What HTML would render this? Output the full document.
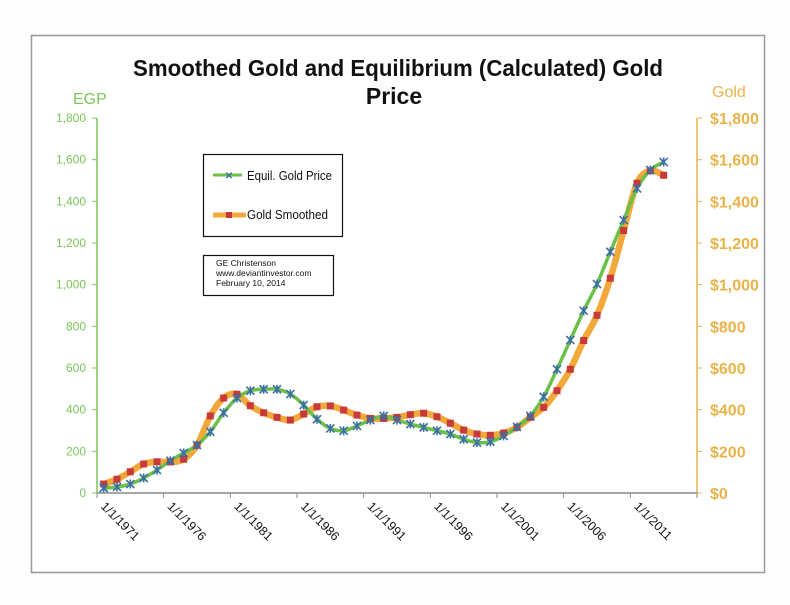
<!DOCTYPE html>
<html><head><meta charset="utf-8"><style>
html,body{margin:0;padding:0;background:#fff;}
svg{display:block;font-family:"Liberation Sans",sans-serif;}
</style></head><body>
<svg id="chart" width="790" height="605" viewBox="0 0 790 605">
<rect x="0" y="0" width="790" height="605" fill="#fdfdfd"/>
<rect x="31.5" y="35.5" width="733" height="537" fill="#fff" stroke="#999" stroke-width="1.5"/>
<text x="133" y="76" textLength="530" lengthAdjust="spacingAndGlyphs" font-size="23" font-weight="bold" fill="#111">Smoothed Gold and Equilibrium (Calculated)  Gold</text>
<text x="394" y="104" text-anchor="middle" font-size="23" font-weight="bold" fill="#111">Price</text>
<text x="73" y="104" font-size="16" fill="#7ac55a">EGP</text>
<text x="712" y="97" font-size="16" fill="#e9b34a">Gold</text>
<g id="axes"></g>
<g id="series"></g>
<g>
<rect x="203.5" y="154.5" width="139" height="82" fill="#fff" stroke="#111" stroke-width="1.2"/>
<g>
<line x1="213" y1="175" x2="242" y2="175" stroke="#6cc04a" stroke-width="3"/>
<text x="229" y="179" text-anchor="middle" font-size="10" fill="#3a6ea5" font-weight="bold">✕</text>
<text x="247" y="180" font-size="12.5" textLength="85" lengthAdjust="spacingAndGlyphs" fill="#111">Equil. Gold Price</text></g>
<g>
<line x1="213" y1="215" x2="246" y2="215" stroke="#f2a93b" stroke-width="5"/>
<rect x="226" y="212" width="6" height="6" fill="#c83a3a"/>
<text x="247" y="219" font-size="12.5" textLength="81" lengthAdjust="spacingAndGlyphs" fill="#111">Gold Smoothed</text></g>
</g>
<g>
<rect x="203.5" y="255.5" width="130" height="40" fill="#fff" stroke="#111" stroke-width="1.2"/>
<text x="216" y="266" font-size="8.5" fill="#111">GE Christenson</text>
<text x="216" y="276" font-size="8.5" fill="#111">www.deviantinvestor.com</text>
<text x="216" y="286" font-size="8.5" fill="#111">February 10, 2014</text>
</g>
</svg>
<script>
const years=[1971,1972,1973,1974,1975,1976,1977,1978,1979,1980,1981,1982,1983,1984,1985,1986,1987,1988,1989,1990,1991,1992,1993,1994,1995,1996,1997,1998,1999,2000,2001,2002,2003,2004,2005,2006,2007,2008,2009,2010,2011,2012,2013];
const equilValues=[24,29,43,72,110,155,192,230,294,385,456,491,498,498,475,422,354,310,299,322,350,370,350,331,315,299,283,258,242,246,274,317,370,462,594,734,875,1003,1158,1310,1462,1550,1589];
const goldValues=[43,66,102,139,150,149,162,229,370,456,474,419,385,363,350,379,414,418,398,374,358,358,363,376,383,366,335,302,283,277,288,315,363,411,491,594,732,853,1031,1260,1487,1547,1525];
const leftTicks=[0,200,400,600,800,1000,1200,1400,1600,1800];
const leftTickLabels=["0","200","400","600","800","1,000","1,200","1,400","1,600","1,800"];
const rightTickLabels=["$0","$200","$400","$600","$800","$1,000","$1,200","$1,400","$1,600","$1,800"];
const xLabelYears=[1971,1976,1981,1986,1991,1996,2001,2006,2011];

const NS="http://www.w3.org/2000/svg";
const X0=97,X1=697,Y0=493,Y1=118,NCAT=45,YMAX=1800;
const xScale=i=>X0+(X1-X0)/NCAT*(i+0.5);
const xTick=i=>X0+(X1-X0)/NCAT*i;
const yScale=v=>Y0-(Y0-Y1)*v/YMAX;
function mk(tag,attrs,parent){const e=document.createElementNS(NS,tag);for(const k in attrs)e.setAttribute(k,attrs[k]);parent.appendChild(e);return e;}
const axes=document.getElementById('axes'),series=document.getElementById('series');

let la=mk('line',{x1:X0,y1:Y1,x2:X0,y2:Y0,stroke:'#7ac55a','stroke-width':1.5},axes);


let ra=mk('line',{x1:X1,y1:Y1,x2:X1,y2:Y0,stroke:'#e9b34a','stroke-width':1.5},axes);


let xa=mk('line',{x1:X0,y1:Y0,x2:X1,y2:Y0,stroke:'#8a8a8a','stroke-width':1.5},axes);



leftTicks.forEach((v,i)=>{
 const y=yScale(v);
 mk('line',{x1:X0-5,y1:y,x2:X0,y2:y,stroke:'#7ac55a','stroke-width':1},axes);
 mk('line',{x1:X1,y1:y,x2:X1+5,y2:y,stroke:'#e9b34a','stroke-width':1},axes);
 const t=mk('text',{x:X0-11,y:y+4,'text-anchor':'end','font-size':12,fill:'#7ac55a'},axes);
 t.textContent=leftTickLabels[i];
 
 
 const r=mk('text',{x:X1+13,y:y+6,'font-size':16,'font-weight':'bold',fill:'#e9b34a'},axes);
 r.textContent=rightTickLabels[i];
 
 
});
for(let k=0;k<=9;k++){const x=xTick(k*5);mk('line',{x1:x,y1:Y0,x2:x,y2:Y0+5,stroke:'#8a8a8a','stroke-width':1},axes);}
xLabelYears.forEach(yr=>{
 const i=years.indexOf(yr)>=0?years.indexOf(yr):yr-years[0];
 const x=xTick(i)+3,y=Y0+14;
 const t=mk('text',{x:x,y:y,'font-size':12.5,fill:'#111',transform:`rotate(45 ${x} ${y})`},axes);
 t.textContent='1/1/'+yr;
 
 
});

function smooth(pts){
 let d=`M${pts[0][0]},${pts[0][1]}`;
 for(let i=0;i<pts.length-1;i++){
  const p0=pts[i-1]||pts[i],p1=pts[i],p2=pts[i+1],p3=pts[i+2]||p2;
  const c1=[p1[0]+(p2[0]-p0[0])/6,p1[1]+(p2[1]-p0[1])/6];
  const c2=[p2[0]-(p3[0]-p1[0])/6,p2[1]-(p3[1]-p1[1])/6];
  d+=`C${c1[0]},${c1[1]} ${c2[0]},${c2[1]} ${p2[0]},${p2[1]}`;
 }
 return d;
}
const gp=goldValues.map((v,i)=>[xScale(i),yScale(v)]);
const ep=equilValues.map((v,i)=>[xScale(i),yScale(v)]);
let gl=mk('path',{d:smooth(gp),fill:'none',stroke:'#f2a93b','stroke-width':6.5,'stroke-linejoin':'round'},series);


let el=mk('path',{d:smooth(ep),fill:'none',stroke:'#6cc04a','stroke-width':3.5,'stroke-linejoin':'round'},series);


gp.forEach(p=>{
 const r=mk('rect',{x:p[0]-3.5,y:p[1]-3.5,width:7,height:7,fill:'#c83a3a'},series);
 
 
});
ep.forEach(p=>{
 const g=mk('path',{d:`M${p[0]-4},${p[1]-4}L${p[0]+4},${p[1]+4}M${p[0]-4},${p[1]+4}L${p[0]+4},${p[1]-4}M${p[0]},${p[1]-4.5}L${p[0]},${p[1]+4.5}`,stroke:'#3a6ea5','stroke-width':1.6,fill:'none'},series);
 
 
});
</script>
</body></html>
